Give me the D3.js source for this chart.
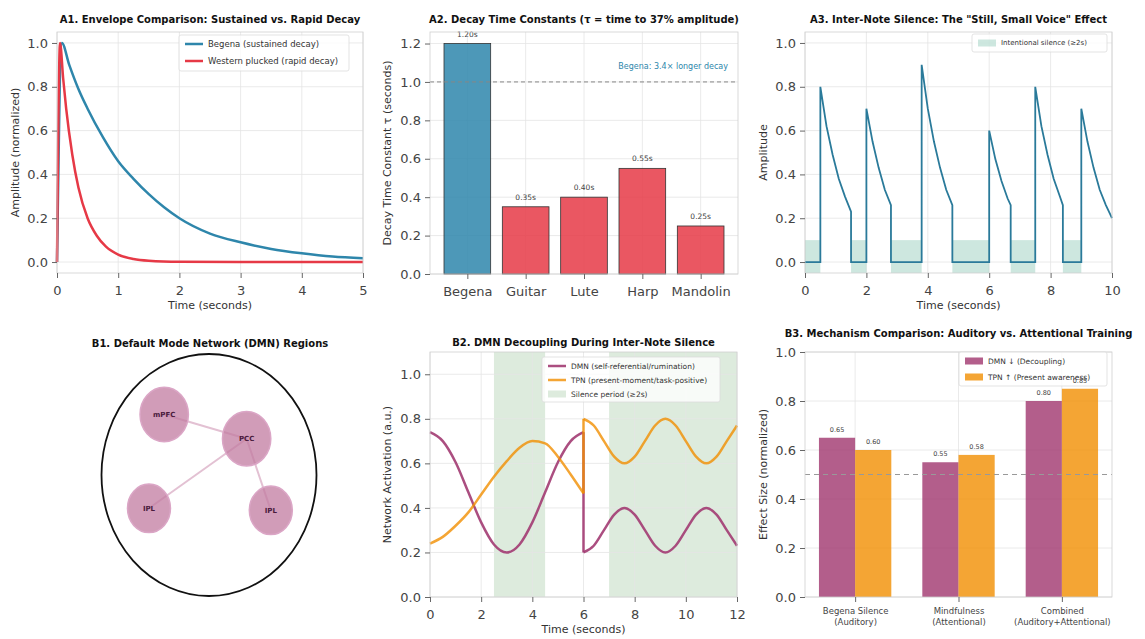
<!DOCTYPE html>
<html>
<head>
<meta charset="utf-8">
<script src="https://cdnjs.cloudflare.com/ajax/libs/d3/7.8.5/d3.min.js"></script>
<style>
  body { margin: 0; background: #fff; }
  svg { font-family: "DejaVu Sans", sans-serif; }
</style>
</head>
<body>
<script>
// ---- A1: envelopes
const a1Time    = [0, 0.08, 0.2, 0.35, 0.5, 0.75, 1, 1.25, 1.5, 1.75, 2, 2.5, 3, 3.5, 4, 4.5, 5];
const a1Begena  = [0, 1.00, 0.90, 0.79, 0.70, 0.57, 0.46, 0.38, 0.31, 0.25, 0.20, 0.13, 0.09, 0.06, 0.04, 0.025, 0.017];
const a1WestTime = [0, 0.05, 0.1, 0.15, 0.25, 0.35, 0.5, 0.65, 0.8, 1, 1.25, 1.5, 2, 3, 4, 5];
const a1Western  = [0, 1.00, 0.84, 0.70, 0.49, 0.34, 0.20, 0.12, 0.07, 0.034, 0.014, 0.006, 0.001, 0, 0, 0];

// ---- A2: decay constants
const a2Instruments = ["Begena", "Guitar", "Lute", "Harp", "Mandolin"];
const a2Tau = [1.20, 0.35, 0.40, 0.55, 0.25];

// ---- A3: note sequence with silences
const a3T = [0, 0.5, 0.5, 0.7, 0.9, 1.1, 1.3, 1.5, 1.5, 2.0, 2.0, 2.2, 2.4, 2.6, 2.8, 2.8, 3.8, 3.8, 4.0, 4.2, 4.4, 4.6, 4.8, 4.8,
             6.0, 6.0, 6.2, 6.4, 6.6, 6.7, 6.7, 7.5, 7.5, 7.7, 7.9, 8.1, 8.3, 8.4, 8.4, 9.0, 9.0, 9.2, 9.4, 9.6, 9.8, 10.0];
const a3A = [0, 0, 0.80, 0.62, 0.49, 0.38, 0.30, 0.23, 0, 0, 0.70, 0.55, 0.43, 0.33, 0.26, 0, 0, 0.90, 0.70, 0.55, 0.43, 0.33, 0.26, 0,
             0, 0.60, 0.47, 0.37, 0.29, 0.26, 0, 0, 0.80, 0.62, 0.49, 0.38, 0.30, 0.26, 0, 0, 0.70, 0.55, 0.43, 0.33, 0.26, 0.20];
const a3SilStart = [0, 1.5, 2.8, 4.8, 6.7, 8.4];
const a3SilEnd   = [0.5, 2.0, 3.8, 6.0, 7.5, 9.0];

// ---- B1: DMN regions
const b1Names = ["mPFC", "PCC", "IPL", "IPL"];
const b1X = [-0.50, 0.42, -0.67, 0.69];
const b1Y = [0.60, 0.36, -0.33, -0.35];
const b1R = [0.27, 0.27, 0.24, 0.24];
const b1Links = [[0, 1], [1, 2], [1, 3]];

// ---- B2: network activation
const b2PreT   = [0, 0.5, 1, 1.5, 2, 2.5, 3, 3.5, 4, 4.5, 5, 5.5, 6];
const b2PreDMN = [0.74, 0.70, 0.605, 0.47, 0.335, 0.236, 0.20, 0.236, 0.335, 0.47, 0.605, 0.70, 0.74];
const b2PreTPN = [0.24, 0.27, 0.32, 0.38, 0.46, 0.54, 0.61, 0.67, 0.70, 0.69, 0.63, 0.55, 0.465];
const b2PostT   = [6, 6.4, 6.8, 7.2, 7.6, 8.0, 8.4, 8.8, 9.2, 9.6, 10.0, 10.4, 10.8, 11.2, 11.6, 12.0];
const b2PostDMN = [0.20, 0.23, 0.30, 0.37, 0.40, 0.37, 0.30, 0.23, 0.20, 0.23, 0.30, 0.37, 0.40, 0.37, 0.30, 0.23];
const b2PostTPN = [0.80, 0.77, 0.70, 0.63, 0.60, 0.63, 0.70, 0.77, 0.80, 0.77, 0.70, 0.63, 0.60, 0.63, 0.70, 0.77];
const b2SilStart = [2.5, 7];
const b2SilEnd   = [4.5, 12];

// ---- B3: mechanism comparison
const b3Cats = [["Begena Silence", "(Auditory)"], ["Mindfulness", "(Attentional)"], ["Combined", "(Auditory+Attentional)"]];
const b3DMN = [0.65, 0.55, 0.80];
const b3TPN = [0.60, 0.58, 0.85];

const BLUE = "#2E86AB", RED = "#E63946", PURPLE = "#A23B72", ORANGE = "#F18F01";

const svg = d3.select("body").append("svg").attr("width", 1145).attr("height", 639);
svg.append("rect").attr("width", 1145).attr("height", 639).attr("fill", "#fff");

function grid(x, y, xs, ys) {
  const [x0, x1] = x.range(), [yb, yt] = y.range();
  const g = svg.append("g").attr("stroke", "#e5e5e5").attr("stroke-width", 0.8);
  g.selectAll(null).data(xs).join("line")
    .attr("x1", d => x(d)).attr("x2", d => x(d)).attr("y1", yb).attr("y2", yt);
  g.selectAll(null).data(ys).join("line")
    .attr("y1", d => y(d)).attr("y2", d => y(d)).attr("x1", x0).attr("x2", x1);
}

function axes(o) {
  const [x0, x1] = o.x.range(), [yb, yt] = o.y.range();
  svg.append("rect").attr("x", x0).attr("y", yt).attr("width", x1 - x0).attr("height", yb - yt)
    .attr("fill", "none").attr("stroke", "#cfcfcf").attr("stroke-width", 0.8);

  const gx = svg.append("g").attr("transform", `translate(0,${yb})`)
    .call(d3.axisBottom(o.x).tickValues(o.xticks).tickFormat(o.xfmt).tickSize(5).tickPadding(o.xpad || 8));
  gx.attr("font-family", null).attr("font-size", null);
  gx.select(".domain").remove();
  gx.selectAll(".tick line").attr("stroke", "#666");
  gx.selectAll(".tick text").attr("font-size", o.xfs || 13).attr("fill", "#444");

  const gy = svg.append("g").attr("transform", `translate(${x0},0)`)
    .call(d3.axisLeft(o.y).tickValues(o.yticks).tickFormat(d3.format(".1f")).tickSize(5).tickPadding(4));
  gy.attr("font-family", null).attr("font-size", null);
  gy.select(".domain").remove();
  gy.selectAll(".tick line").attr("stroke", "#666");
  gy.selectAll(".tick text").attr("font-size", 13).attr("fill", "#444");

  if (o.xlabel) svg.append("text").attr("x", (x0 + x1) / 2).attr("y", yb + o.xlabelOff)
    .attr("text-anchor", "middle").attr("font-size", 11).attr("fill", "#333").text(o.xlabel);
  svg.append("text").attr("transform", `translate(${o.ylabelX},${(yb + yt) / 2}) rotate(-90)`)
    .attr("text-anchor", "middle").attr("dy", "0.35em").attr("font-size", 11).attr("fill", "#333").text(o.ylabel);
  title(o.title, (x0 + x1) / 2, o.titleY);
  return gx;
}

function title(t, x, y) {
  svg.append("text").attr("x", x).attr("y", y).attr("text-anchor", "middle")
    .attr("font-size", 10).attr("font-weight", "bold").attr("fill", "#111").text(t);
}

function legend(x, y, w, h, rows, fs) {
  const g = svg.append("g");
  g.append("rect").attr("x", x).attr("y", y).attr("width", w).attr("height", h).attr("rx", 2)
    .attr("fill", "#fff").attr("fill-opacity", 0.8).attr("stroke", "#dcdcdc").attr("stroke-width", 0.8);
  rows.forEach(r => {
    if (r.kind === "line") {
      g.append("line").attr("x1", x + 6).attr("x2", x + 24).attr("y1", r.y).attr("y2", r.y)
        .attr("stroke", r.color).attr("stroke-width", 2.5).attr("stroke-opacity", r.op || 1);
    } else {
      g.append("rect").attr("x", x + 6).attr("y", r.y - 3.5).attr("width", 18).attr("height", 7)
        .attr("fill", r.color).attr("fill-opacity", r.op || 1);
    }
    g.append("text").attr("x", x + 29).attr("y", r.y).attr("dy", "0.35em")
      .attr("font-size", fs).attr("fill", "#333").text(r.label);
  });
}

const curve = d3.line().curve(d3.curveMonotoneX);

// ================= A1 =================
{
  const x = d3.scaleLinear().domain([0, 5]).range([57, 363]);
  const y = d3.scaleLinear().domain([-0.05, 1.05]).range([273, 32]);
  grid(x, y, [0, 1, 2, 3, 4, 5], [0, 0.2, 0.4, 0.6, 0.8, 1.0]);
  svg.append("path").attr("d", curve(a1Time.map((t, i) => [x(t), y(a1Begena[i])])))
    .attr("fill", "none").attr("stroke", BLUE).attr("stroke-width", 2.5);
  svg.append("path").attr("d", curve(a1WestTime.map((t, i) => [x(t), y(a1Western[i])])))
    .attr("fill", "none").attr("stroke", RED).attr("stroke-width", 2.5);
  axes({ x, y, xticks: [0, 1, 2, 3, 4, 5], xfmt: d3.format("d"), yticks: [0, 0.2, 0.4, 0.6, 0.8, 1.0],
         xlabel: "Time (seconds)", xlabelOff: 36, ylabel: "Amplitude (normalized)", ylabelX: 15,
         title: "A1. Envelope Comparison: Sustained vs. Rapid Decay", titleY: 23 });
  legend(179, 35, 170, 36, [
    { kind: "line", y: 44, color: BLUE, label: "Begena (sustained decay)" },
    { kind: "line", y: 61, color: RED, label: "Western plucked (rapid decay)" }
  ], 8.5);
}

// ================= A2 =================
{
  const x = d3.scaleLinear().domain([-0.64, 4.64]).range([430, 738]);
  const y = d3.scaleLinear().domain([0, 1.26]).range([274, 32]);
  grid(x, y, d3.range(a2Instruments.length), [0, 0.2, 0.4, 0.6, 0.8, 1.0, 1.2]);
  svg.append("g").selectAll("rect").data(a2Tau).join("rect")
    .attr("x", (d, i) => x(i - 0.4)).attr("width", (d, i) => x(i + 0.4) - x(i - 0.4))
    .attr("y", d => y(d)).attr("height", d => y(0) - y(d))
    .attr("fill", (d, i) => i === 0 ? BLUE : RED).attr("fill-opacity", 0.85)
    .attr("stroke", "#333").attr("stroke-width", 0.8);
  svg.append("g").selectAll("text").data(a2Tau).join("text")
    .attr("x", (d, i) => x(i)).attr("y", d => y(d) - 7).attr("text-anchor", "middle")
    .attr("font-size", 7.5).attr("fill", "#444").text(d => d.toFixed(2) + "s");
  svg.append("line").attr("x1", 430).attr("x2", 738).attr("y1", y(1.0)).attr("y2", y(1.0))
    .attr("stroke", "#888").attr("stroke-width", 1).attr("stroke-dasharray", "4,3");
  svg.append("text").attr("x", 728).attr("y", y(1.08)).attr("dy", "0.35em").attr("text-anchor", "end")
    .attr("font-size", 8).attr("fill", BLUE).text("Begena: 3.4× longer decay");
  axes({ x, y, xticks: d3.range(a2Instruments.length), xfmt: i => a2Instruments[i],
         yticks: [0, 0.2, 0.4, 0.6, 0.8, 1.0, 1.2], ylabel: "Decay Time Constant τ (seconds)", ylabelX: 387,
         title: "A2. Decay Time Constants (τ = time to 37% amplitude)", titleY: 23 });
}

// ================= A3 =================
{
  const x = d3.scaleLinear().domain([0, 10]).range([805, 1112]);
  const y = d3.scaleLinear().domain([-0.05, 1.05]).range([273, 32]);
  grid(x, y, [0, 2, 4, 6, 8, 10], [0, 0.2, 0.4, 0.6, 0.8, 1.0]);
  svg.append("g").selectAll("rect").data(a3SilStart).join("rect")
    .attr("x", d => x(d)).attr("width", (d, i) => x(a3SilEnd[i]) - x(d))
    .attr("y", y(0.1)).attr("height", y(-0.05) - y(0.1))
    .attr("fill", "#6fb9a3").attr("fill-opacity", 0.35);
  svg.append("path").attr("d", d3.line()(a3T.map((t, i) => [x(t), y(a3A[i])])))
    .attr("fill", "none").attr("stroke", "#2a7a9a").attr("stroke-width", 1.8);
  axes({ x, y, xticks: [0, 2, 4, 6, 8, 10], xfmt: d3.format("d"), yticks: [0, 0.2, 0.4, 0.6, 0.8, 1.0],
         xlabel: "Time (seconds)", xlabelOff: 36, ylabel: "Amplitude", ylabelX: 763,
         title: "A3. Inter-Note Silence: The \"Still, Small Voice\" Effect", titleY: 23 });
  legend(972, 34, 135, 18, [
    { kind: "rect", y: 43, color: "#6fb9a3", op: 0.35, label: "Intentional silence (≥2s)" }
  ], 7);
}

// ================= B1 =================
{
  const x = d3.scaleLinear().domain([-1.2, 1.2]).range([101.5, 316.5]);
  const y = d3.scaleLinear().domain([-1.2, 1.2]).range([596, 354]);
  title("B1. Default Mode Network (DMN) Regions", 210, 347);
  svg.append("ellipse").attr("cx", x(0)).attr("cy", y(0))
    .attr("rx", x(1.2) - x(0)).attr("ry", y(0) - y(1.2))
    .attr("fill", "none").attr("stroke", "#111").attr("stroke-width", 1.8);
  svg.append("g").selectAll("line").data(b1Links).join("line")
    .attr("x1", d => x(b1X[d[0]])).attr("y1", d => y(b1Y[d[0]]))
    .attr("x2", d => x(b1X[d[1]])).attr("y2", d => y(b1Y[d[1]]))
    .attr("stroke", "#e3c1d3").attr("stroke-width", 2);
  svg.append("g").selectAll("ellipse").data(b1Names).join("ellipse")
    .attr("cx", (d, i) => x(b1X[i])).attr("cy", (d, i) => y(b1Y[i]))
    .attr("rx", (d, i) => x(b1R[i]) - x(0)).attr("ry", (d, i) => y(0) - y(b1R[i]))
    .attr("fill", "#c27ba0").attr("fill-opacity", 0.75)
    .attr("stroke", "#dba6c6").attr("stroke-width", 1.5);
  svg.append("g").selectAll("text").data(b1Names).join("text")
    .attr("x", (d, i) => x(b1X[i])).attr("y", (d, i) => y(b1Y[i])).attr("dy", "0.35em")
    .attr("text-anchor", "middle").attr("font-size", 7).attr("font-weight", "bold")
    .attr("fill", "#4a1a3c").text(d => d);
}

// ================= B2 =================
{
  const x = d3.scaleLinear().domain([0, 12]).range([430, 737]);
  const y = d3.scaleLinear().domain([0, 1.1]).range([597, 352]);
  svg.append("g").selectAll("rect").data(b2SilStart).join("rect")
    .attr("x", d => x(d)).attr("width", (d, i) => x(b2SilEnd[i]) - x(d))
    .attr("y", 352).attr("height", 597 - 352)
    .attr("fill", "#8fbc8f").attr("fill-opacity", 0.3);
  grid(x, y, [0, 2, 4, 6, 8, 10, 12], [0, 0.2, 0.4, 0.6, 0.8, 1.0]);
  const series = [
    { pre: b2PreDMN, post: b2PostDMN, color: PURPLE, op: 0.9 },
    { pre: b2PreTPN, post: b2PostTPN, color: ORANGE, op: 0.8 }
  ];
  series.forEach(s => {
    const pre = b2PreT.map((t, i) => [x(t), y(s.pre[i])]);
    const post = b2PostT.map((t, i) => [x(t), y(s.post[i])]);
    const segs = [pre, [pre[pre.length - 1], post[0]], post];
    segs.forEach(seg => svg.append("path").attr("d", curve(seg))
      .attr("fill", "none").attr("stroke", s.color).attr("stroke-opacity", s.op).attr("stroke-width", 2.5));
  });
  axes({ x, y, xticks: [0, 2, 4, 6, 8, 10, 12], xfmt: d3.format("d"), yticks: [0, 0.2, 0.4, 0.6, 0.8, 1.0],
         xlabel: "Time (seconds)", xlabelOff: 36, ylabel: "Network Activation (a.u.)", ylabelX: 387,
         title: "B2. DMN Decoupling During Inter-Note Silence", titleY: 346 });
  legend(542, 357, 178, 45, [
    { kind: "line", y: 366, color: PURPLE, op: 0.9, label: "DMN (self-referential/rumination)" },
    { kind: "line", y: 380, color: ORANGE, op: 0.8, label: "TPN (present-moment/task-positive)" },
    { kind: "rect", y: 394, color: "#8fbc8f", op: 0.3, label: "Silence period (≥2s)" }
  ], 7.5);
}

// ================= B3 =================
{
  const x = d3.scaleLinear().domain([-0.485, 2.485]).range([805, 1112]);
  const y = d3.scaleLinear().domain([0, 1.0]).range([597, 352]);
  const bw = 0.35;
  grid(x, y, [0, 1, 2], [0, 0.2, 0.4, 0.6, 0.8, 1.0]);
  svg.append("g").selectAll("rect").data(b3DMN).join("rect")
    .attr("x", (d, i) => x(i - bw)).attr("width", x(bw) - x(0))
    .attr("y", d => y(d)).attr("height", d => y(0) - y(d))
    .attr("fill", PURPLE).attr("fill-opacity", 0.82);
  svg.append("g").selectAll("rect").data(b3TPN).join("rect")
    .attr("x", (d, i) => x(i)).attr("width", x(bw) - x(0))
    .attr("y", d => y(d)).attr("height", d => y(0) - y(d))
    .attr("fill", ORANGE).attr("fill-opacity", 0.8);
  svg.append("line").attr("x1", 805).attr("x2", 1112).attr("y1", y(0.5)).attr("y2", y(0.5))
    .attr("stroke", "#999").attr("stroke-width", 1).attr("stroke-dasharray", "5,4");
  const gx = axes({ x, y, xticks: [0, 1, 2], xfmt: i => i, xpad: 6, xfs: 8.5,
         yticks: [0, 0.2, 0.4, 0.6, 0.8, 1.0], ylabel: "Effect Size (normalized)", ylabelX: 763,
         title: "B3. Mechanism Comparison: Auditory vs. Attentional Training", titleY: 337 });
  gx.selectAll(".tick text").each(function (d) {
    const t = d3.select(this).attr("dy", null).text(null);
    b3Cats[d].forEach((s, k) => t.append("tspan").attr("x", 0).attr("dy", k ? "1.25em" : "0.71em").text(s));
  });
  legend(959, 352, 148, 34, [
    { kind: "rect", y: 361, color: PURPLE, op: 0.82, label: "DMN ↓ (Decoupling)" },
    { kind: "rect", y: 377, color: ORANGE, op: 0.8, label: "TPN ↑ (Present awareness)" }
  ], 7.5);
  const lab = b3DMN.map((v, i) => [i - bw / 2, v]).concat(b3TPN.map((v, i) => [i + bw / 2, v]));
  svg.append("g").selectAll("text").data(lab).join("text")
    .attr("x", d => x(d[0])).attr("y", d => y(d[1]) - 6).attr("text-anchor", "middle")
    .attr("font-size", 6.5).attr("fill", "#444").text(d => d[1].toFixed(2));
}
</script>
</body>
</html>
